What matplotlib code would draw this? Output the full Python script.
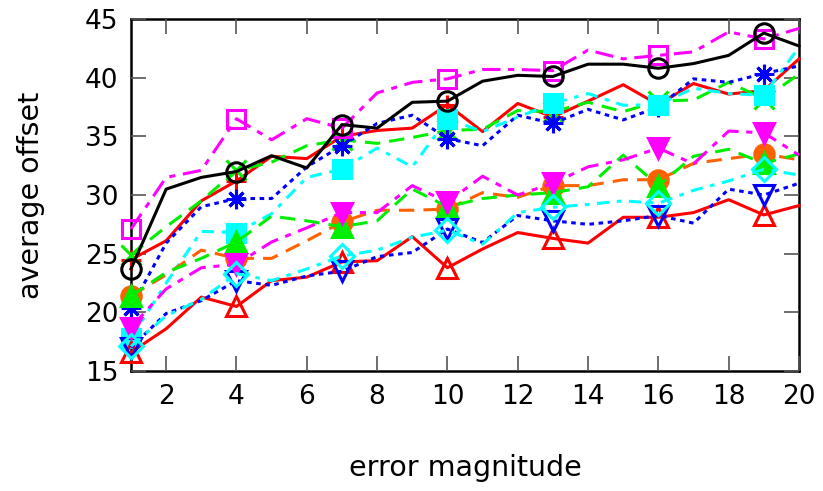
import matplotlib
matplotlib.use("Agg")
import matplotlib.pyplot as plt

x = list(range(1, 21))

s1_red_plus = [24.5, 26.1, 29.5, 31.2, 33.3, 33.1, 35.0, 35.5, 35.7, 37.7, 35.4, 37.8, 36.65, 38.0, 39.4, 37.7, 39.5, 38.6, 38.9, 41.6]
s2_green_x = [24.9, 27.3, 29.5, 32.1, 32.8, 34.2, 34.7, 34.4, 34.9, 35.5, 35.6, 37.2, 37.1, 37.9, 37.1, 38.0, 38.1, 39.6, 38.2, 40.3]
s3_blue_star = [20.4, 25.9, 29.0, 29.7, 29.7, 32.4, 34.2, 36.1, 36.8, 34.8, 34.2, 36.8, 36.1, 37.3, 36.4, 37.5, 39.9, 39.6, 40.35, 41.0]
s4_mag_sq = [27.1, 31.5, 32.1, 36.5, 34.7, 36.5, 35.7, 38.7, 39.6, 39.9, 40.7, 40.7, 40.6, 42.35, 41.6, 41.9, 42.2, 43.9, 43.3, 44.2]
s5_cyan_fsq = [17.8, 22.5, 26.9, 26.8, 28.4, 31.5, 32.2, 34.0, 32.4, 36.5, 35.4, 36.65, 37.8, 38.65, 37.65, 37.7, 39.1, 38.65, 38.5, 42.6]
s6_black_circ = [23.7, 30.5, 31.5, 32.0, 33.35, 32.3, 36.0, 35.7, 37.9, 38.0, 39.7, 40.2, 40.1, 41.15, 41.15, 40.8, 41.2, 41.9, 43.8, 42.7]
s7_orange_fcirc = [21.4, 23.2, 25.3, 24.6, 24.6, 26.1, 27.7, 28.7, 28.7, 28.8, 30.2, 29.8, 30.8, 30.8, 31.3, 31.3, 32.7, 33.1, 33.5, 33.0]
s8_red_tri = [16.6, 18.6, 21.3, 20.5, 22.7, 23.0, 24.3, 24.4, 26.45, 23.8, 25.4, 26.8, 26.3, 25.9, 28.1, 28.1, 28.5, 29.6, 28.3, 29.1]
s9_green_ftri = [21.4, 23.4, 24.6, 26.0, 28.2, 27.8, 27.3, 27.8, 30.5, 29.0, 29.7, 30.0, 30.2, 30.7, 33.4, 30.8, 33.3, 33.9, 32.7, 33.5]
s10_blue_dtri = [17.0, 19.9, 21.0, 22.7, 22.3, 23.1, 23.5, 24.75, 25.1, 27.1, 25.95, 28.25, 27.8, 27.5, 27.8, 28.25, 27.6, 30.5, 30.0, 31.0]
s11_mag_fdtri = [18.7, 22.0, 23.8, 24.1, 26.0, 27.2, 28.5, 28.5, 30.8, 29.4, 31.6, 30.0, 31.0, 32.4, 33.0, 34.0, 32.65, 35.45, 35.3, 33.4]
s12_cyan_diam = [17.1, 19.7, 21.1, 23.3, 22.7, 23.7, 24.8, 25.3, 26.4, 27.0, 25.8, 28.5, 28.95, 29.2, 29.5, 29.3, 30.4, 31.2, 32.2, 31.7]

xticks = [2, 4, 6, 8, 10, 12, 14, 16, 18, 20]
yticks = [15, 20, 25, 30, 35, 40, 45]

RED = "#ff0000"
GREEN = "#00ee00"
BLUE = "#0000ff"
MAG = "#ff00ff"
CYAN = "#00ffff"
BLACK = "#000000"
ORANGE = "#ff6000"

series = [
    (s1_red_plus, RED, "-", "+", True),
    (s2_green_x, GREEN, (0, (5, 3)), "x", True),
    (s3_blue_star, BLUE, (0, (1.5, 1.5)), (8, 2, 0), True),
    (s4_mag_sq, MAG, (0, (6, 2.5, 2, 2.5)), "s", False),
    (s5_cyan_fsq, CYAN, (0, (4, 2.5, 1.5, 2.5)), "s", True),
    (s6_black_circ, BLACK, "-", "o", False),
    (s7_orange_fcirc, ORANGE, (0, (5, 3)), "o", True),
    (s8_red_tri, RED, "-", "^", False),
    (s9_green_ftri, GREEN, (0, (5, 3)), "^", True),
    (s10_blue_dtri, BLUE, (0, (1.5, 1.5)), "v", False),
    (s11_mag_fdtri, MAG, (0, (6, 2.5, 2, 2.5)), "v", True),
    (s12_cyan_diam, CYAN, (0, (4, 2.5, 1.5, 2.5)), "D", False),
]

fig = plt.figure(figsize=(8.23, 4.91), dpi=100)
ax = fig.add_axes([131 / 823, 1 - 371 / 491, (799 - 131) / 823, (371 - 19) / 491])

for vals, col, ls, mk, filled in series:
    ms = 14
    if mk == "D":
        ms = 12
    elif mk == "s":
        ms = 13.5
    elif mk in ("+", "x"):
        ms = 15
    kw = dict(color=col, linestyle=ls, linewidth=2.2, marker=mk, markevery=3,
              markersize=ms, markeredgewidth=2.2, clip_on=False)
    if filled:
        kw.update(markerfacecolor=col, markeredgecolor=col)
    else:
        kw.update(markerfacecolor="none", markeredgecolor=col)
    ax.plot(x, vals, **kw)

ax.set_xlim(1, 20)
ax.set_ylim(15, 45)
ax.set_xticks(xticks)
ax.set_yticks(yticks)
ax.tick_params(direction="in", length=11, width=1.2, color="#555555",
               top=True, right=True, labelsize=19, pad=9)
for sp in ax.spines.values():
    sp.set_linewidth(1.8)
    sp.set_color("black")
    sp.set_zorder(0.5)

ax.set_xlabel("error magnitude", fontsize=20.5)
ax.set_ylabel("average offset", fontsize=20.5)
ax.xaxis.set_label_coords(0.5, -0.235)
ax.yaxis.set_label_coords(-0.128, 0.5)

fig.savefig("out.png", dpi=100)
